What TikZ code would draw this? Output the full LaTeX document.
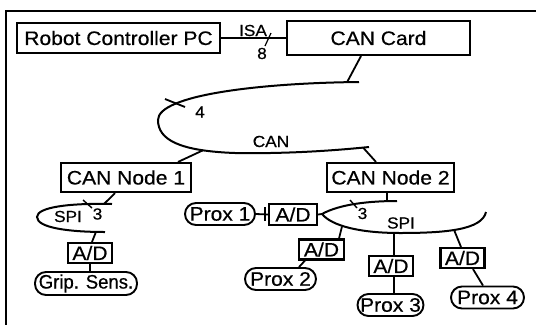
\documentclass[tikz,border=0pt]{standalone}
\usepackage{graphicx}
\usepackage{fontspec}
\setmainfont{Liberation Sans}[FakeStretch=1.08,FakeBold=0.5]
\begin{document}
\begin{tikzpicture}[x=1pt,y=-1pt,
  frame/.style={line width=2.6pt},
  blk/.style={draw, line width=2.1pt, inner sep=0pt, font=\fontsize{19.5}{22}\selectfont},
  sens/.style={blk, rounded corners=11pt, line width=1.9pt},
  ad/.style={blk, minimum width=44pt, minimum height=20pt},
  wire/.style={line width=1.8pt},
  bus/.style={line width=2pt},
  lbl/.style={font=\fontsize{16}{18}\selectfont, inner sep=0pt}]
\useasboundingbox (0,0) rectangle (536,325);

% outer frame (top and left edges)
\draw[frame] (536,11) -- (6,11) -- (6,325);

% blocks
\node[blk, minimum width=203pt, minimum height=30pt] (pc) at (118.5,38) {Robot Controller PC};
\node[blk, minimum width=183pt, minimum height=34pt] (card) at (378.5,38) {CAN Card};
\node[blk, minimum width=130pt, minimum height=29pt] (n1) at (126,177.5) {CAN Node 1};
\node[blk, minimum width=127pt, minimum height=29pt] (n2) at (390.5,177.5) {CAN Node 2};

\node[ad] (adg) at (90,253) {A/D};
\node[sens, minimum width=102pt, minimum height=23pt] (grip) at (86,283.5) {\scalebox{0.88}[1]{Grip. Sens.}};

\node[sens, minimum width=70pt, minimum height=22pt] (p1) at (220,214) {Prox 1};
\node[ad, minimum width=48pt, minimum height=21pt] (ad1) at (293,214.5) {A/D};
\node[ad, minimum width=45pt] (ad2) at (321.5,249.5) {A/D};
\node[sens, minimum width=71pt, minimum height=22pt] (p2) at (280.5,279) {Prox 2};
\node[ad] (ad3) at (391,266) {A/D};
\node[sens, minimum width=66pt, minimum height=22pt] (p3) at (390.5,305) {Prox 3};
\node[ad] (ad4) at (462.5,258) {A/D};
\node[sens, minimum width=73pt, minimum height=22pt] (p4) at (487.5,297.5) {Prox 4};

% ISA link
\draw[wire] (pc.east) -- (card.west);
\draw[line width=1.2pt] (265,46) -- (271,33);
\node[lbl] (isa) at (253,30.5) {ISA};
\node[lbl] (w8) at (262,53.5) {8};

% CAN bus
\coordinate (canU) at (359,82);
\coordinate (canL) at (369,147);
\draw[bus] (canU) .. controls (260,83) and (158,95) .. (158,120)
  .. controls (158,140) and (180,151) .. (235,153)
  .. controls (290,154) and (340,150) .. (canL);
\coordinate (tapC) at (347,82.3);
\coordinate (tap1) at (203,150.3);
\coordinate (tap2) at (363,147.5);
\draw[wire] ([xshift=-17.5pt]card.south) -- (tapC);
\draw[wire] (tap1) -- ([xshift=52pt]n1.north);
\draw[wire] (tap2) -- ([xshift=-14.5pt]n2.north);
\draw[wire] (165,99) -- (185,107);
\node[lbl] (w4) at (200,112) {4};
\node[lbl] (canlbl) at (271,141.5) {CAN};

% SPI bus of node 1
\coordinate (s1U) at (112,204);
\coordinate (s1L) at (105,232);
\draw[bus] (s1U) .. controls (70,203) and (37,207) .. (37,217)
  .. controls (37,228) and (70,232) .. (s1L);
\coordinate (t1a) at (104,204);
\coordinate (t1b) at (96,231.8);
\draw[wire] ([xshift=-11pt]n1.south) -- (t1a);
\draw[wire] (t1b) -- ([xshift=2pt]adg.north);
\draw[wire] (adg.south) -- (adg.south |- grip.north);
\draw[line width=1.4pt] (83,200) -- (92,208);
\node[lbl] (spi1) at (68,216.5) {SPI};
\node[lbl] (w3a) at (97.5,214) {3};

% SPI bus of node 2
\coordinate (s2tip) at (322,214);
\coordinate (s2U) at (397,201);
\coordinate (s2L) at (486,212);
\draw[bus] (s2U) .. controls (370,201) and (340,204) .. (s2tip)
  .. controls (332,226) and (360,233) .. (400,233)
  .. controls (445,233) and (482,230) .. (s2L);
\draw[wire] (ad1.east) -- (s2tip);
\coordinate (t2a) at (387,201.2);
\draw[wire] ([xshift=-3.5pt]n2.south) -- (t2a);
\draw[line width=1.4pt] (350,200) -- (357,208);
\node[lbl] (w3b) at (362.5,213.5) {3};
\node[lbl] (spi2) at (401,223) {SPI};

% Prox 1 link
\draw[wire] (p1.east) -- (ad1.west);
\draw[wire] (265,207) -- (265,221);

% taps on the lower SPI branch
\coordinate (t2b) at (342,226.5);
\coordinate (t3) at (394,232.9);
\coordinate (t4) at (454,229.8);
\draw[wire] (t2b) -- ([xshift=17.5pt]ad2.north);
\draw[wire] (t3) -- ([xshift=3pt]ad3.north);
\draw[wire] (t4) -- ([xshift=-1.5pt]ad4.north);
\draw[wire] ([xshift=-16.5pt]ad2.south) -- ([xshift=18.5pt]p2.north);
\draw[wire] ([xshift=3pt]ad3.south) -- ([xshift=3.5pt]p3.north);
\draw[wire] ([xshift=10.5pt]ad4.south) -- ([xshift=-4.5pt]p4.north);
\end{tikzpicture}
\end{document}
